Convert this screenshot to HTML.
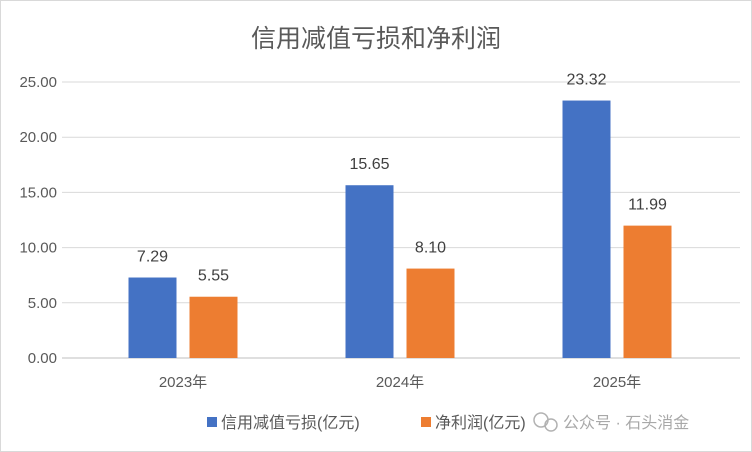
<!DOCTYPE html>
<html><head><meta charset="utf-8">
<style>
html,body{margin:0;padding:0;background:#fff;}
svg{display:block;font-family:"Liberation Sans","Noto Sans CJK SC",sans-serif;}
</style></head>
<body>
<svg id="chart" width="752" height="452">
<rect x="0.5" y="0.5" width="751" height="451" fill="#fff" stroke="#d9d9d9"/>
<text x="376" y="47" text-anchor="middle" font-size="25" fill="#595959">信用减值亏损和净利润</text>
<g id="grid"></g><g id="bars"></g><g id="labels"></g>
<g>
<rect x="207" y="417" width="10" height="10" fill="#4472c4"/>
<text x="221" y="428" font-size="16" fill="#595959">信用减值亏损(亿元)</text>
<rect x="421" y="417" width="10" height="10" fill="#ed7d31"/>
<text x="435" y="428" font-size="16" fill="#595959">净利润(亿元)</text>
</g>
<g opacity="0.75">
<circle cx="541" cy="420" r="7" fill="none" stroke="#999" stroke-width="1.5"/>
<circle cx="551" cy="425" r="6" fill="none" stroke="#999" stroke-width="1.5"/>
<text x="563" y="428" font-size="16" fill="#8c8c8c">公众号 · 石头消金</text>
</g>
</svg>
<script>
const categories=["2023年","2024年","2025年"];
const creditLoss=[7.29,15.65,23.32];
const netProfit=[5.55,8.10,11.99];
const yTicks=[0,5,10,15,20,25];
const ns="http://www.w3.org/2000/svg";
const gx0=62,gx1=740,x0=74.5,x1=725.5,yBase=358,yTop=82,yMax=25;
const y=v=>yBase-(v/yMax)*(yBase-yTop);
const band=(x1-x0)/categories.length;
const cx=i=>x0+band*(i+0.5);
function mk(tag,attrs,parent,text){const e=document.createElementNS(ns,tag);for(const k in attrs)e.setAttribute(k,attrs[k]);if(text!=null)e.textContent=text;parent.appendChild(e);return e;}
const grid=document.getElementById('grid'),bars=document.getElementById('bars'),labels=document.getElementById('labels');
yTicks.forEach(t=>{
 const l=mk('line',{x1:gx0,x2:gx1,y1:y(t),y2:y(t),stroke:t===0?'#bfbfbf':'#d9d9d9','stroke-width':1},grid);
 
 
 const tx=mk('text',{x:57,y:y(t)+5,'text-anchor':'end','font-size':15,fill:'#595959'},grid,t.toFixed(2));
 
 
});
const bw=48,gap=13;
categories.forEach((c,i)=>{
 const series=[[creditLoss[i],'#4472c4',-bw-gap/2,'credit-loss'],[netProfit[i],'#ed7d31',gap/2,'net-profit']];
 series.forEach(([v,col,off,nm])=>{
  const r=mk('rect',{x:cx(i)+off,y:y(v),width:bw,height:yBase-y(v),fill:col},bars);
  
  
  const t=mk('text',{x:cx(i)+off+bw/2,y:y(v)-16,'text-anchor':'middle','font-size':16,fill:'#404040'},labels,v.toFixed(2));
  
  
 });
 const t=mk('text',{x:cx(i),y:387,'text-anchor':'middle','font-size':15,fill:'#595959'},labels,c);
 
 
});
</script>
</body></html>
